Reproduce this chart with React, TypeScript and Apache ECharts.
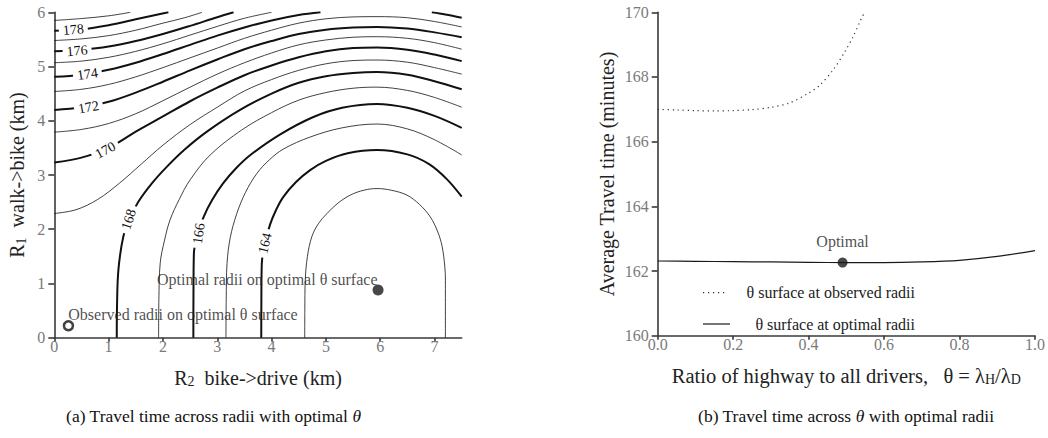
import React, { useEffect, useRef } from "react";
import * as echarts from "echarts";

// ---- Left panel: contour lines of travel time (R2 = x, R1 = y) ----
const c179 = [[0, 5.85], [0.5, 5.885], [1.0, 5.935], [1.4, 6.0]];
const c178 = [[0, 5.66], [0.5, 5.685], [1.0, 5.76], [1.5, 5.87], [2.1, 6.0]];
const c177 = [[0, 5.48], [0.5, 5.51], [1.0, 5.57], [1.5, 5.67], [2.0, 5.8], [2.4, 5.9], [2.72, 6.0]];
const c176 = [[0, 5.28], [0.5, 5.31], [1.0, 5.37], [1.5, 5.47], [2.0, 5.6], [2.5, 5.75], [3.0, 5.91], [3.3, 6.0]];
const c175 = [[0, 5.07], [0.5, 5.1], [1.0, 5.17], [1.5, 5.28], [2.0, 5.42], [2.5, 5.58], [3.0, 5.74], [3.5, 5.89], [4.0, 6.0]];
const c174a = [[0, 4.81], [0.5, 4.85], [1.0, 4.94], [1.5, 5.07], [2.0, 5.23], [2.5, 5.4], [3.0, 5.57], [3.5, 5.72], [4.0, 5.85], [4.5, 5.95], [4.9, 6.0]];
const c174b = [[6.95, 6.0], [7.2, 5.96], [7.5, 5.9]];
const c173 = [[0, 4.54], [0.5, 4.58], [1.0, 4.67], [1.5, 4.81], [2.0, 4.98], [2.5, 5.16], [3.0, 5.34], [3.5, 5.52], [4.0, 5.67], [4.5, 5.8], [5.0, 5.88], [5.5, 5.915], [5.94, 5.92], [6.5, 5.9], [7.0, 5.83], [7.5, 5.73]];
const c172 = [[0, 4.2], [0.5, 4.25], [1.0, 4.35], [1.5, 4.52], [2.0, 4.72], [2.5, 4.93], [3.0, 5.13], [3.5, 5.32], [4.0, 5.47], [4.5, 5.6], [5.0, 5.68], [5.5, 5.72], [5.94, 5.73], [6.5, 5.7], [7.0, 5.63], [7.5, 5.54]];
const c171 = [[0, 3.79], [0.5, 3.84], [1.0, 3.95], [1.5, 4.13], [2.0, 4.37], [2.5, 4.62], [3.0, 4.86], [3.5, 5.07], [4.0, 5.25], [4.5, 5.4], [5.0, 5.49], [5.5, 5.54], [5.94, 5.55], [6.5, 5.52], [7.0, 5.44], [7.5, 5.32]];
const c170 = [[0, 3.23], [0.5, 3.32], [1.0, 3.5], [1.5, 3.8], [2.0, 4.08], [2.5, 4.36], [3.0, 4.61], [3.5, 4.84], [4.0, 5.02], [4.5, 5.17], [5.0, 5.28], [5.5, 5.34], [5.94, 5.35], [6.5, 5.31], [7.0, 5.22], [7.5, 5.1]];
const c169 = [[0, 2.29], [0.4, 2.36], [0.8, 2.55], [1.2, 2.85], [1.6, 3.2], [2.0, 3.55], [2.5, 3.93], [3.0, 4.25], [3.5, 4.55], [4.0, 4.76], [4.5, 4.93], [5.0, 5.05], [5.5, 5.11], [5.94, 5.12], [6.5, 5.08], [7.0, 4.98], [7.5, 4.86]];
const c168 = [[1.15, 0], [1.155, 0.6], [1.18, 1.25], [1.27, 1.86], [1.39, 2.2], [1.55, 2.51], [1.8, 2.85], [2.07, 3.15], [2.4, 3.47], [2.81, 3.8], [3.42, 4.2], [4.0, 4.5], [4.5, 4.7], [5.0, 4.82], [5.5, 4.88], [5.94, 4.9], [6.5, 4.85], [7.0, 4.73], [7.5, 4.58]];
const c167 = [[1.92, 0], [1.925, 0.7], [1.95, 1.38], [2.03, 1.8], [2.13, 2.17], [2.3, 2.55], [2.5, 2.91], [2.87, 3.37], [3.45, 3.83], [4.0, 4.15], [4.5, 4.38], [5.0, 4.52], [5.5, 4.6], [5.94, 4.62], [6.5, 4.56], [7.0, 4.43], [7.5, 4.25]];
const c166 = [[2.56, 0], [2.562, 0.8], [2.57, 1.56], [2.65, 1.92], [2.75, 2.23], [2.9, 2.53], [3.11, 2.85], [3.35, 3.13], [3.61, 3.37], [4.16, 3.75], [4.77, 4.07], [5.3, 4.24], [5.94, 4.31], [6.5, 4.24], [7.0, 4.09], [7.5, 3.87]];
const c165 = [[3.16, 0], [3.165, 0.7], [3.18, 1.37], [3.24, 1.85], [3.36, 2.29], [3.52, 2.68], [3.73, 3.03], [3.96, 3.28], [4.22, 3.48], [4.71, 3.7], [5.3, 3.87], [5.94, 3.94], [6.5, 3.85], [7.0, 3.65], [7.5, 3.37]];
const c164 = [[3.81, 0], [3.812, 0.7], [3.82, 1.37], [3.88, 1.74], [3.97, 2.08], [4.08, 2.35], [4.22, 2.6], [4.45, 2.87], [4.71, 3.09], [5.0, 3.26], [5.4, 3.4], [5.94, 3.46], [6.5, 3.38], [6.9, 3.2], [7.23, 2.92], [7.5, 2.6]];
const c163 = [[4.61, 0], [4.612, 0.5], [4.62, 1.06], [4.66, 1.5], [4.74, 1.86], [4.86, 2.1], [5.02, 2.29], [5.22, 2.48], [5.45, 2.63], [5.7, 2.72], [5.94, 2.75], [6.2, 2.72], [6.49, 2.63], [6.72, 2.46], [6.92, 2.23], [7.06, 1.95], [7.14, 1.68], [7.19, 1.3], [7.2, 1.06], [7.2, 0]];

const thickContours = [c178, c176, c174a, c174b, c172, c170, c168, c166, c164];
const thinContours = [c179, c177, c175, c173, c171, c169, c167, c165, c163];

const contourLabelText = ["178", "176", "174", "172", "170", "168", "166", "164"];
const contourLabelPos = [[0.35, 5.68], [0.42, 5.29], [0.61, 4.86], [0.63, 4.25], [0.94, 3.46], [1.37, 2.18], [2.66, 1.92], [3.88, 1.74]];
const contourLabelRot = [5, 5, 8, 10, 28, 72, 82, 76];

const observedRadii = [0.26, 0.22];
const optimalRadii = [5.96, 0.88];

// ---- Right panel: travel time across theta ----
const obsThetaX = [0, 0.05, 0.1, 0.15, 0.2, 0.25, 0.3, 0.35, 0.4, 0.43, 0.465, 0.496, 0.518, 0.536, 0.548];
const obsThetaY = [167.0, 166.98, 166.96, 166.95, 166.96, 166.99, 167.06, 167.2, 167.5, 167.75, 168.22, 168.78, 169.25, 169.71, 170.0];
const optThetaX = [0, 0.1, 0.2, 0.3, 0.4, 0.5, 0.6, 0.7, 0.8, 0.9, 1.0];
const optThetaY = [162.31, 162.3, 162.29, 162.28, 162.27, 162.26, 162.26, 162.28, 162.33, 162.45, 162.63];
const optimalTheta = [0.49, 162.26];

const xTicksLeft = [0, 1, 2, 3, 4, 5, 6, 7];

const FONT = "Liberation Serif, Times New Roman, serif";
const AXIS_LINE = { color: "#3a3a3a", width: 1.6 };
const TICK_LABEL = { color: "#7a7a7a", fontFamily: FONT, fontSize: 16 };
const NAME_STYLE = (size: number = 20) => ({
  fontFamily: FONT,
  fontSize: size,
  color: "#222",
  lineHeight: 22,
  rich: {
    s: { fontFamily: FONT, fontSize: 14, color: "#222", verticalAlign: "bottom", lineHeight: 14 },
  },
});

export default function App() {
  const ref = useRef<HTMLDivElement>(null);

  useEffect(() => {
    if (!ref.current) return;
    const chart = echarts.init(ref.current, undefined, { renderer: "svg" });

    const contourSeries: any[] = [];
    thickContours.forEach((pts) =>
      contourSeries.push({
        type: "line",
        xAxisIndex: 0,
        yAxisIndex: 0,
        data: pts,
        smooth: 0.35,
        symbol: "none",
        silent: true,
        z: 2,
        lineStyle: { color: "#111", width: 2 },
      })
    );
    thinContours.forEach((pts) =>
      contourSeries.push({
        type: "line",
        xAxisIndex: 0,
        yAxisIndex: 0,
        data: pts,
        smooth: 0.35,
        symbol: "none",
        silent: true,
        z: 2,
        lineStyle: { color: "#111", width: 0.8 },
      })
    );

    const textStyle = (size: number) => ({
      fontFamily: FONT,
      fontSize: size,
      color: "#222",
      textBorderWidth: 0,
      textBorderColor: "transparent",
    });

    const option: any = {
      animation: false,
      grid: [
        { left: 54.3, top: 12.3, width: 407.4, height: 325.4 },
        { left: 657.7, top: 12.3, width: 377.3, height: 323.4 },
      ],
      xAxis: [
        {
          gridIndex: 0,
          type: "value",
          min: 0,
          max: 7.5,
          interval: 1,
          axisLine: { show: true, onZero: false, lineStyle: AXIS_LINE },
          axisTick: { show: true, length: 4, customValues: xTicksLeft, lineStyle: AXIS_LINE },
          axisLabel: { customValues: xTicksLeft, margin: 1, ...TICK_LABEL },
          splitLine: { show: false },
          name: "R{s|2}  bike->drive (km)",
          nameLocation: "middle",
          nameGap: 29,
          nameTextStyle: NAME_STYLE(),
        },
        {
          gridIndex: 1,
          type: "value",
          min: 0,
          max: 1,
          interval: 0.2,
          axisLine: { show: true, onZero: false, lineStyle: AXIS_LINE },
          axisTick: { show: true, length: 4, lineStyle: AXIS_LINE },
          axisLabel: { margin: 1, formatter: (v: number) => v.toFixed(1), ...TICK_LABEL },
          splitLine: { show: false },
          name: "Ratio of highway to all drivers,   θ = λ{s|H}/λ{s|D}",
          nameLocation: "middle",
          nameGap: 29,
          nameTextStyle: NAME_STYLE(20.5),
        },
      ],
      yAxis: [
        {
          gridIndex: 0,
          type: "value",
          min: 0,
          max: 6,
          interval: 1,
          axisLine: { show: true, onZero: false, lineStyle: AXIS_LINE },
          axisTick: { show: true, length: 6, lineStyle: AXIS_LINE },
          axisLabel: { margin: 9, ...TICK_LABEL },
          splitLine: { show: false },
          name: "R{s|1}  walk->bike (km)",
          nameLocation: "middle",
          nameGap: 26,
          nameTextStyle: NAME_STYLE(),
        },
        {
          gridIndex: 1,
          type: "value",
          min: 160,
          max: 170,
          interval: 2,
          axisLine: { show: true, onZero: false, lineStyle: AXIS_LINE },
          axisTick: { show: true, length: 6, lineStyle: AXIS_LINE },
          axisLabel: { margin: 9, ...TICK_LABEL },
          splitLine: { show: false },
          name: "Average Travel time (minutes)",
          nameLocation: "middle",
          nameGap: 40,
          nameTextStyle: NAME_STYLE(),
        },
      ],
      series: [
        ...contourSeries,
        {
          type: "custom",
          xAxisIndex: 0,
          yAxisIndex: 0,
          silent: true,
          z: 5,
          data: contourLabelPos.map((p, i) => [p[0], p[1], i]),
          renderItem: (params: any, api: any) => {
            const i = api.value(2);
            const pt = api.coord([api.value(0), api.value(1)]);
            return {
              type: "text",
              x: pt[0],
              y: pt[1],
              rotation: (contourLabelRot[i] * Math.PI) / 180,
              style: {
                text: contourLabelText[i],
                fontFamily: FONT,
                fontSize: 14,
                fill: "#111",
                align: "center",
                verticalAlign: "middle",
                backgroundColor: "#fff",
                padding: [0, 4],
              },
            };
          },
        },
        {
          type: "scatter",
          xAxisIndex: 0,
          yAxisIndex: 0,
          symbol: "circle",
          symbolSize: 9,
          silent: true,
          z: 6,
          itemStyle: { color: "#fff", borderColor: "#111", borderWidth: 2.5 },
          data: [observedRadii],
        },
        {
          type: "scatter",
          xAxisIndex: 0,
          yAxisIndex: 0,
          symbol: "circle",
          symbolSize: 11,
          silent: true,
          z: 6,
          itemStyle: { color: "#1a1a1a" },
          data: [optimalRadii],
        },
        {
          type: "scatter",
          xAxisIndex: 0,
          yAxisIndex: 0,
          symbolSize: 0,
          silent: true,
          z: 6,
          data: [
            { value: [0.258, 0.42], name: "Observed radii on optimal θ surface", label: { position: "right" } },
            { value: [5.95, 1.08], name: "Optimal radii on optimal θ surface", label: { position: "left" } },
          ],
          label: {
            show: true,
            distance: 0,
            formatter: (p: any) => p.name,
            ...textStyle(16),
          },
        },
        {
          type: "line",
          xAxisIndex: 1,
          yAxisIndex: 1,
          data: obsThetaX.map((x, i) => [x, obsThetaY[i]]),
          smooth: 0.3,
          symbol: "none",
          silent: true,
          lineStyle: { color: "#333", width: 1.2, type: [1.2, 3.8] },
        },
        {
          type: "line",
          xAxisIndex: 1,
          yAxisIndex: 1,
          data: optThetaX.map((x, i) => [x, optThetaY[i]]),
          smooth: 0.3,
          symbol: "none",
          silent: true,
          lineStyle: { color: "#1a1a1a", width: 1.2 },
        },
        {
          type: "scatter",
          xAxisIndex: 1,
          yAxisIndex: 1,
          symbol: "circle",
          symbolSize: 10,
          silent: true,
          z: 6,
          itemStyle: { color: "#1a1a1a" },
          data: [{ value: optimalTheta, name: "Optimal" }],
          label: {
            show: true,
            position: "top",
            distance: 8,
            formatter: (p: any) => p.name,
            ...textStyle(16),
          },
        },
      ],
      graphic: [
        {
          type: "line",
          shape: { x1: 703, y1: 292.7, x2: 728, y2: 292.7 },
          style: { stroke: "#333", lineWidth: 1.2, lineDash: [1.2, 3.8] },
        },
        {
          type: "text",
          x: 915,
          y: 292.7,
          style: {
            text: "θ surface at observed radii",
            fontFamily: FONT,
            fontSize: 16,
            fill: "#222",
            align: "right",
            verticalAlign: "middle",
          },
        },
        {
          type: "line",
          shape: { x1: 703, y1: 324, x2: 730, y2: 324 },
          style: { stroke: "#1a1a1a", lineWidth: 1.2 },
        },
        {
          type: "text",
          x: 915,
          y: 324,
          style: {
            text: "θ surface at optimal radii",
            fontFamily: FONT,
            fontSize: 16,
            fill: "#222",
            align: "right",
            verticalAlign: "middle",
          },
        },
        {
          type: "text",
          x: 213.5,
          y: 416,
          style: {
            text: "(a) Travel time across radii with optimal {i|θ}",
            fontFamily: FONT,
            fontSize: 17.5,
            fill: "#111",
            align: "center",
            verticalAlign: "middle",
            rich: { i: { fontFamily: FONT, fontSize: 17.5, fontStyle: "italic", fill: "#111" } },
          },
        },
        {
          type: "text",
          x: 846,
          y: 416,
          style: {
            text: "(b) Travel time across {i|θ} with optimal radii",
            fontFamily: FONT,
            fontSize: 17.5,
            fill: "#111",
            align: "center",
            verticalAlign: "middle",
            rich: { i: { fontFamily: FONT, fontSize: 17.5, fontStyle: "italic", fill: "#111" } },
          },
        },
      ],
    };

    chart.setOption(option);
    return () => chart.dispose();
  }, []);

  return (
    <div
      ref={ref}
      style={{ position: "absolute", left: 0, top: 0, width: 1048, height: 438, background: "#fff" }}
    />
  );
}
